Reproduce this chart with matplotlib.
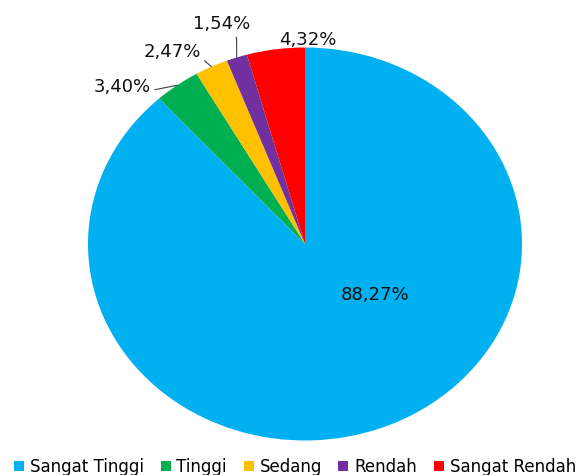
import numpy as np
import matplotlib.pyplot as plt
from matplotlib.patches import Patch

# Data
categories = ["Sangat Tinggi", "Tinggi", "Sedang", "Rendah", "Sangat Rendah"]
values = [88.27, 3.40, 2.47, 1.54, 4.32]
labels = ["88,27%", "3,40%", "2,47%", "1,54%", "4,32%"]
colors = ["#00B0F0", "#00B050", "#FFC000", "#7030A0", "#FF0000"]

# label placement (data units of the pie axes) and leader line anchors
label_pos = [(0.323, -0.26), (-0.843, 0.799), (-0.613, 0.977), (-0.382, 1.120), (0.014, 1.038)]
leader = [None, (1.0, 0.3), (1.0, 0.2), (0.75, 0.0), None]

fig = plt.figure(figsize=(5.76, 4.75), dpi=100)
ax = fig.add_axes([0, 0, 1, 1])

wedges, _ = ax.pie(values, colors=colors, startangle=90, counterclock=False,
                   radius=1, wedgeprops=dict(linewidth=0))

# stretched pie, as in the reference
ax.set_aspect("auto")
ax.set_xlim(-1.4055, 1.2488)
ax.set_ylim(-1.1756, 1.2417)
ax.axis("off")

for w, lab, pos, rel in zip(wedges, labels, label_pos, leader):
    mid = np.deg2rad((w.theta1 + w.theta2) / 2)
    edge = (np.cos(mid), np.sin(mid))
    if rel is None:
        ax.text(pos[0], pos[1], lab, ha="center", va="center", fontsize=13, color="#111111")
    else:
        ax.annotate(lab, xy=edge, xytext=pos, ha="center", va="center",
                    fontsize=13, color="#111111",
                    arrowprops=dict(arrowstyle="-", color="#404040", lw=0.8,
                                    relpos=rel, shrinkA=1, shrinkB=0))

handles = [Patch(facecolor=c, edgecolor="none") for c in colors]
fig.legend(handles, categories, loc="center", bbox_to_anchor=(0.512, 0.017),
           ncol=5, frameon=False, fontsize=12, handlelength=0.6, handleheight=0.6,
           handletextpad=0.35, columnspacing=1.0, borderaxespad=0, borderpad=0)

fig.savefig("out.png", dpi=100)
